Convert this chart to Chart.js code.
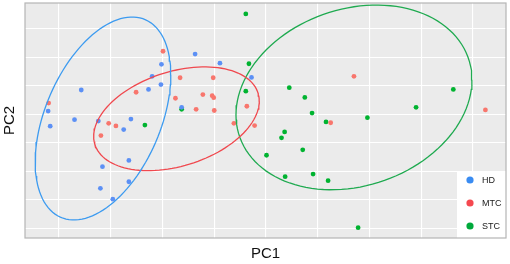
<!DOCTYPE html>
<html>
<head>
<meta charset="utf-8">
<script src="https://cdn.jsdelivr.net/npm/chart.js@4.4.1/dist/chart.umd.min.js"></script>
<style>
  html, body { margin: 0; padding: 0; background: #fff; }
  #wrap { width: 510px; height: 264px; }
</style>
</head>
<body>
<div id="wrap"><canvas id="c" width="510" height="264"></canvas></div>
<script>
// groups and PCA scores
const groups = ['HD', 'MTC', 'STC'];

const hdX = [-1.37, -2.02, -2.20, -2.03, -2.27, -3.57, -4.21, -3.70, -3.24, -2.61, -2.75, -4.17, -1.63, -0.89, -0.28, -2.65, -3.16, -2.65, -3.20, -2.96];
const hdY = [3.12, 2.76, 2.34, 2.05, 1.88, 1.86, 1.12, 0.82, 0.77, 0.84, 0.47, 0.59, 1.25, 2.80, 2.30, -0.61, -0.83, -1.36, -1.59, -1.97];

const mtcX = [-1.99, -1.66, -2.51, -4.20, -1.75, -1.35, -3.04, -2.90, -3.19, -1.02, -1.22, -1.04, -1.01, -1.00, -0.37, -0.62, -0.22, 1.70, 1.25, 4.24];
const mtcY = [3.22, 2.29, 1.78, 1.40, 1.57, 1.18, 0.69, 0.60, 0.26, 2.29, 1.70, 1.66, 1.59, 1.14, 1.29, 0.69, 0.61, 2.34, 0.71, 1.16];

const stcX = [-2.34, -1.63, -0.39, -0.33, -0.39, 0.45, 0.75, 0.89, 1.16, 0.36, 0.30, 0.71, 0.01, 0.37, 0.91, 1.20, 1.78, 3.62, 2.90, 1.96];
const stcY = [0.63, 1.18, 4.53, 2.78, 1.82, 1.94, 1.60, 1.05, 0.74, 0.39, 0.18, -0.24, -0.43, -1.18, -1.09, -1.32, -2.97, 1.88, 1.25, 0.89];

// 95% ellipses per group: centre, half extent in x / y, correlation
const ellCx = [-3.15, -1.73, 1.70];
const ellCy = [0.86, 0.85, 1.60];
const ellHw = [1.31, 1.60, 2.28];
const ellHh = [3.56, 1.82, 3.24];
const ellRho = [0.43, 0.34, 0.19];

const pointColors = ['#5C90F5', '#F8766D', '#00B330'];
const lineColors = ['#3D9BF0', '#F0484E', '#1FAA50'];
const legendColors = ['#3A8CF2', '#F5484F', '#00A93B'];

const pairs = (xs, ys) => xs.map((x, i) => ({ x: x, y: ys[i] }));

function ellipse(g) {
  const out = [];
  const s = Math.sqrt(1 - ellRho[g] * ellRho[g]);
  for (let k = 0; k <= 120; k++) {
    const t = k * 2 * Math.PI / 120;
    out.push({
      x: ellCx[g] + ellHw[g] * Math.cos(t),
      y: ellCy[g] + ellHh[g] * (ellRho[g] * Math.cos(t) + s * Math.sin(t))
    });
  }
  return out;
}

const groupPts = [pairs(hdX, hdY), pairs(mtcX, mtcY), pairs(stcX, stcY)];

const datasets = [];
groupPts.forEach((pts, g) => {
  datasets.push({
    label: groups[g], data: pts, backgroundColor: pointColors[g],
    pointRadius: 2.4, pointBorderWidth: 0, pointHoverRadius: 2.4, order: 2
  });
});
groups.forEach((name, g) => {
  datasets.push({
    label: name + ' ellipse', data: ellipse(g), showLine: true, fill: false,
    borderColor: lineColors[g], borderWidth: 1.3, pointRadius: 0, order: 1
  });
});

const panelDeco = {
  id: 'panelDeco',
  beforeDraw(chart) {
    const { ctx, chartArea: a } = chart;
    ctx.save();
    ctx.fillStyle = '#EBEBEB';
    ctx.fillRect(a.left, a.top, a.right - a.left, a.bottom - a.top);
    ctx.restore();
  },
  afterDraw(chart) {
    const { ctx, chartArea: a } = chart;
    ctx.save();
    // legend box
    ctx.fillStyle = '#fff';
    ctx.fillRect(a.right - 49, a.bottom - 67, 49, 67);
    ctx.font = '9px "Liberation Sans", Arial, sans-serif';
    ctx.textBaseline = 'middle';
    groups.forEach((g, i) => {
      const y = a.bottom - 58 + i * 23;
      ctx.fillStyle = legendColors[i];
      ctx.beginPath();
      ctx.arc(a.right - 36, y, 3.6, 0, 2 * Math.PI);
      ctx.fill();
      ctx.fillStyle = '#1A1A1A';
      ctx.fillText(g, a.right - 24, y + 0.5);
    });
    // panel border
    ctx.strokeStyle = '#B5B5B5';
    ctx.lineWidth = 1.2;
    ctx.strokeRect(a.left, a.top, a.right - a.left, a.bottom - a.top);
    // axis titles
    ctx.fillStyle = '#111';
    ctx.font = '15px "Liberation Sans", Arial, sans-serif';
    ctx.textAlign = 'center';
    ctx.fillText('PC1', (a.left + a.right) / 2, 254);
    ctx.translate(10, (a.top + a.bottom) / 2);
    ctx.rotate(-Math.PI / 2);
    ctx.fillText('PC2', 0, 0);
    ctx.restore();
  }
};

const ctx = document.getElementById('c').getContext('2d');
const myChart = new Chart(ctx, {
  type: 'scatter',
  data: { datasets: datasets },
  options: {
    responsive: false,
    animation: false,
    events: [],
    layout: { padding: { left: 25, right: 4, top: 3, bottom: 26 } },
    plugins: { legend: { display: false }, tooltip: { enabled: false } },
    scales: {
      x: {
        type: 'linear', min: -4.657, max: 4.638,
        ticks: { display: false, stepSize: 1, includeBounds: false },
        grid: { color: '#FFFFFF', lineWidth: 1.1, drawTicks: false },
        border: { display: false }
      },
      y: {
        type: 'linear', min: -3.333, max: 4.912,
        ticks: { display: false, stepSize: 1, includeBounds: false },
        grid: { color: '#FFFFFF', lineWidth: 1.1, drawTicks: false },
        border: { display: false }
      }
    }
  },
  plugins: [panelDeco]
});
</script>
</body>
</html>
